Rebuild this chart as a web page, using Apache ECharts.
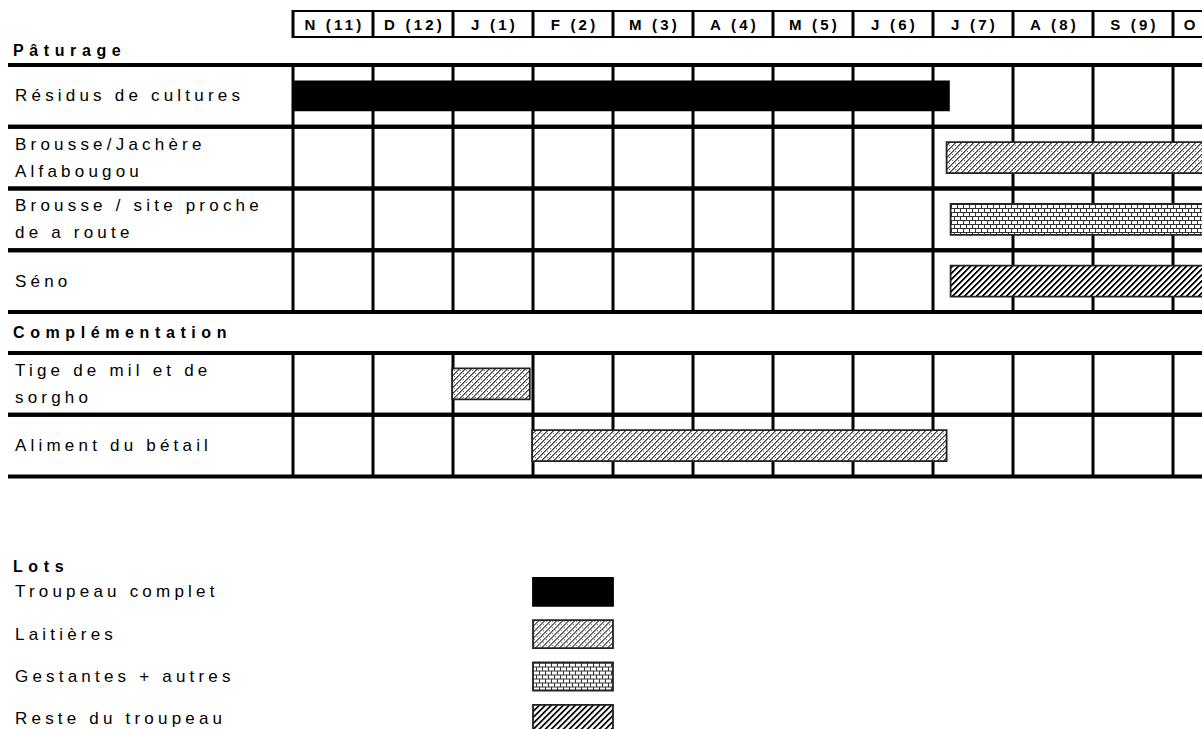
<!DOCTYPE html>
<html><head><meta charset="utf-8">
<script src="https://cdn.jsdelivr.net/npm/echarts@6/dist/echarts.min.js"></script>
<style>
html,body{margin:0;padding:0;background:#fff}
#chart{width:1202px;height:729px}
#chart text[style*="17px"]{letter-spacing:4.2px}
#chart text[style*="16px"]{letter-spacing:5.6px}
#chart text[style*="15px"]{letter-spacing:3.2px}
</style></head><body><div id="chart"></div>
<script>
// ---- data ----
const MONTHS = ['N (11)','D (12)','J (1)','F (2)','M (3)','A (4)','M (5)','J (6)','J (7)','A (8)','S (9)','O (10)'];
const ROW_LABELS = ['Résidus de cultures','Brousse/Jachère\nAlfabougou','Brousse / site proche\nde a route','Séno','Tige de mil et de\nsorgho','Aliment du bétail'];
const ROW_TOPS = [0, 1, 2, 3, 4.664, 5.664];      // row positions (row units)
const SECTIONS = ['Pâturage', 'Complémentation'];
const SECTION_POS = [-0.23, 4.332];
const LOTS = ['Troupeau complet', 'Laitières', 'Gestantes + autres', 'Reste du troupeau'];
// bars: [rowIndex, startMonth, endMonth]   (month 0 = start of November)
const BARS_TROUPEAU = [[0, 0, 8.21]];
const BARS_LAITIERES = [[1, 8.17, 12], [4, 1.99, 2.96], [5, 2.99, 8.17]];
const BARS_GESTANTES = [[2, 8.22, 12]];
const BARS_RESTE = [[3, 8.22, 12]];
const VISIBLE_MONTHS = 11.3625;   // the picture is cut inside October

const FONT = 'Liberation Sans, Arial, sans-serif';
const TABLE_LEFT = 8, LABEL_X = 15, SECTION_X = 13, BAR_H = 0.5;

function tile(w, h, draw) {
  const c = document.createElement('canvas');
  c.width = w; c.height = h;
  const ctx = c.getContext('2d');
  ctx.fillStyle = '#fff'; ctx.fillRect(0, 0, w, h);
  draw(ctx);
  return { image: c, repeat: 'repeat', imageWidth: w, imageHeight: h };
}
const PAT_LAIT = tile(6, 6, ctx => {
  ctx.fillStyle = '#3a3a3a';
  for (let i = 0; i < 6; i++) ctx.fillRect(i, 5 - i, 1, 1);
  ctx.fillStyle = '#8a8a8a';
  for (let i = 0; i < 6; i++) ctx.fillRect((i + 1) % 6, 5 - i, 1, 1);
  ctx.fillStyle = '#666';
  ctx.fillRect(1, 1, 1, 1); ctx.fillRect(4, 4, 1, 1);
});
const PAT_GEST = tile(6, 8, ctx => {
  ctx.fillStyle = '#333';
  ctx.fillRect(0, 0, 6, 1); ctx.fillRect(0, 4, 6, 1);
  ctx.fillRect(0, 1, 1, 3); ctx.fillRect(3, 5, 1, 3);
});
const PAT_RESTE = tile(6, 6, ctx => {
  ctx.fillStyle = '#000';
  for (let y = 0; y < 6; y++) { ctx.fillRect((5 - y + 6) % 6, y, 1, 1); ctx.fillRect((6 - y + 6) % 6, y, 1, 1); }
  ctx.fillStyle = '#888';
  for (let y = 0; y < 6; y++) { ctx.fillRect((7 - y + 6) % 6, y, 1, 1); }
});

const chart = echarts.init(document.getElementById('chart'), null, { renderer: 'svg' });

function renderHeader(params, api) {
  const k = api.value(0);
  const pL = api.coord([k, 0]), pR = api.coord([k + 1, 0]), pT = api.coord([k, 1]);
  const yT = pT[1], yB = pL[1];
  return { type: 'group', children: [
    { type: 'line', shape: { x1: pL[0], y1: yT, x2: pR[0], y2: yT }, style: { stroke: '#000', lineWidth: 2 } },
    { type: 'line', shape: { x1: pL[0], y1: yB, x2: pR[0], y2: yB }, style: { stroke: '#000', lineWidth: 2 } },
    { type: 'line', shape: { x1: pL[0], y1: yT - 1, x2: pL[0], y2: yB + 1 }, style: { stroke: '#000', lineWidth: 3 } },
    { type: 'text', x: (pL[0] + pR[0]) / 2 + 1.5, y: (yT + yB) / 2 + 0.5,
      style: { text: MONTHS[params.dataIndex], fontSize: 15, fontWeight: 'bold', fontFamily: FONT, fill: '#000',
               align: 'center', verticalAlign: 'middle' } }
  ] };
}
function renderTable(params, api) {
  const top = api.value(0), bot = api.value(1);
  const cs = params.coordSys;
  const yT = api.coord([0, top])[1], yB = api.coord([0, bot])[1];
  const right = cs.x + cs.width;
  const children = [];
  for (let k = 0; k <= MONTHS.length; k++) {
    const x = api.coord([k, top])[0];
    children.push({ type: 'line', shape: { x1: x, y1: yT, x2: x, y2: yB }, style: { stroke: '#000', lineWidth: 3 } });
  }
  [yT, yB].forEach(y => children.push({ type: 'line', shape: { x1: TABLE_LEFT, y1: y, x2: right, y2: y }, style: { stroke: '#000', lineWidth: 4 } }));
  return { type: 'group', children };
}
function makeBarSeries(name, data, fill, stroke, lw) {
  return {
    name, type: 'custom', xAxisIndex: 1, yAxisIndex: 1, data, z: 5, clip: true,
    itemStyle: { color: fill, borderColor: stroke, borderWidth: lw },
    renderItem: (params, api) => {
      const row = api.value(0), s = api.value(1), e = api.value(2);
      const cy = ROW_TOPS[row] + 0.5;
      const p0 = api.coord([s, cy]), p1 = api.coord([e, cy]);
      const h = api.size([0, BAR_H])[1];
      return { type: 'rect', shape: { x: p0[0], y: p0[1] - h / 2, width: p1[0] - p0[0], height: h },
               style: { fill, stroke, lineWidth: lw } };
    }
  };
}

const option = {
  animation: false,
  backgroundColor: '#fff',
  title: { text: 'Lots', left: SECTION_X, top: 558, padding: 0,
           textStyle: { fontSize: 16, fontWeight: 'bold', fontFamily: FONT, color: '#000' } },
  legend: {
    data: LOTS, orient: 'vertical', left: LABEL_X, top: 577, height: 180, padding: 0,
    itemWidth: 80, itemHeight: 28, itemGap: 12.5, align: 'right', selectedMode: false, icon: 'rect',
    itemStyle: { borderWidth: 1.8 },
    formatter: n => '{a|' + n + '}',
    textStyle: { fontSize: 17, fontFamily: FONT, color: '#000',
                 rich: { a: { fontSize: 17, fontFamily: FONT, color: '#000', width: 513, align: 'left' } } }
  },
  grid: [
    { left: 293, width: 909, top: 11, height: 26 },
    { left: 293, width: 909, top: 65, height: 411.5 }
  ],
  xAxis: [
    { type: 'value', gridIndex: 0, min: 0, max: VISIBLE_MONTHS, show: false },
    { type: 'value', gridIndex: 1, min: 0, max: VISIBLE_MONTHS, show: false }
  ],
  yAxis: [
    { type: 'value', gridIndex: 0, min: 0, max: 1, show: false },
    { type: 'value', gridIndex: 1, min: 0, max: ROW_TOPS[ROW_TOPS.length - 1] + 1, inverse: true, show: false }
  ],
  series: [
    { name: 'header', type: 'custom', xAxisIndex: 0, yAxisIndex: 0, clip: false, z: 1, silent: true,
      data: MONTHS.map((m, i) => [i, 0]), renderItem: renderHeader },
    { name: 'table', type: 'custom', xAxisIndex: 1, yAxisIndex: 1, clip: false, z: 1,
      data: ROW_TOPS.map(t => [t, t + 1]), renderItem: renderTable, silent: true },
    { name: 'rows', type: 'custom', xAxisIndex: 1, yAxisIndex: 1, clip: false, z: 2, silent: true,
      data: ROW_LABELS.map((l, i) => [0, ROW_TOPS[i] + 0.5]),
      renderItem: (params, api) => {
        const y = api.coord([0, api.value(1)])[1];
        return { type: 'text', x: LABEL_X, y, style: { text: ROW_LABELS[params.dataIndex], fontSize: 17, fontFamily: FONT,
                 fill: '#000', align: 'left', verticalAlign: 'middle', lineHeight: 27 } };
      } },
    { name: 'sections', type: 'custom', xAxisIndex: 1, yAxisIndex: 1, clip: false, z: 2, silent: true,
      data: SECTIONS.map((s, i) => [0, SECTION_POS[i]]),
      renderItem: (params, api) => {
        const y = api.coord([0, api.value(1)])[1];
        return { type: 'text', x: SECTION_X, y, style: { text: SECTIONS[params.dataIndex], fontSize: 16, fontWeight: 'bold',
                 fontFamily: FONT, fill: '#000', align: 'left', verticalAlign: 'middle' } };
      } },
    makeBarSeries(LOTS[0], BARS_TROUPEAU, '#000', '#000', 0),
    makeBarSeries(LOTS[1], BARS_LAITIERES, PAT_LAIT, '#222', 1.8),
    makeBarSeries(LOTS[2], BARS_GESTANTES, PAT_GEST, '#222', 1.8),
    makeBarSeries(LOTS[3], BARS_RESTE, PAT_RESTE, '#222', 1.8)
  ]
};
chart.setOption(option);
</script></body></html>
